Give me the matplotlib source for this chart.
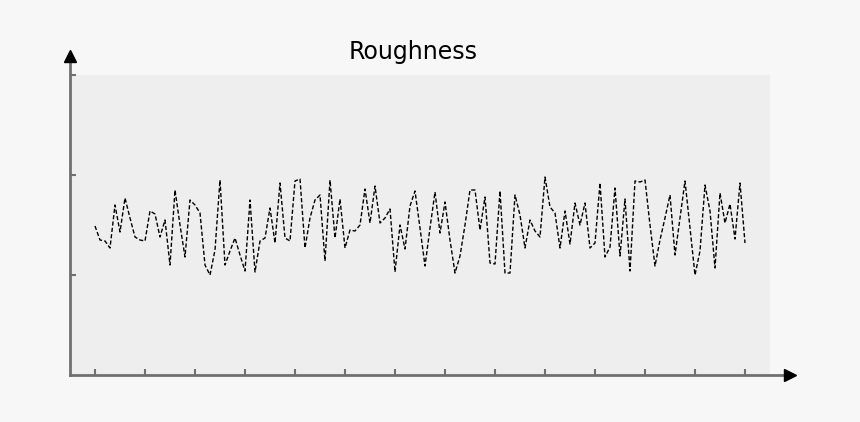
import matplotlib
matplotlib.use("Agg")
import matplotlib.pyplot as plt
import numpy as np

# --- datos ---
roughness = [
    1.49, 1.35, 1.34, 1.27, 1.70, 1.43, 1.77, 1.57, 1.38, 1.35,
    1.34, 1.64, 1.61, 1.38, 1.55, 1.10, 1.85, 1.50, 1.18, 1.75,
    1.70, 1.62, 1.10, 1.00, 1.25, 1.95, 1.10, 1.24, 1.37, 1.20,
    1.04, 1.75, 1.03, 1.34, 1.37, 1.67, 1.32, 1.92, 1.37, 1.34,
    1.94, 1.96, 1.27, 1.57, 1.75, 1.80, 1.14, 1.95, 1.37, 1.76,
    1.27, 1.45, 1.44, 1.50, 1.86, 1.52, 1.89, 1.52, 1.57, 1.66,
    1.03, 1.50, 1.26, 1.69, 1.84, 1.47, 1.09, 1.47, 1.83, 1.42,
    1.73, 1.35, 1.02, 1.19, 1.50, 1.85, 1.85, 1.45, 1.78, 1.12,
    1.11, 1.84, 1.02, 1.02, 1.80, 1.60, 1.27, 1.55, 1.44, 1.38,
    1.98, 1.68, 1.62, 1.27, 1.64, 1.31, 1.72, 1.50, 1.72, 1.27,
    1.32, 1.92, 1.18, 1.28, 1.87, 1.19, 1.76, 1.04, 1.94, 1.93,
    1.95, 1.50, 1.09, 1.35, 1.57, 1.80, 1.20, 1.57, 1.94, 1.47,
    1.00, 1.24, 1.90, 1.64, 1.07, 1.82, 1.52, 1.71, 1.36, 1.92,
    1.32,
]
x = np.arange(len(roughness))
x_ticks = np.arange(0, len(roughness), 10)
y_ticks = [1, 2, 3]

axis_color = "#707070"

fig = plt.figure(figsize=(8.6, 4.22), dpi=100, facecolor="#f7f7f7")
ax = fig.add_axes([70 / 860, 47 / 422, 700 / 860, 300 / 422])
ax.set_facecolor("#eeeeee")

ax.plot(x, roughness, color="black", lw=1, dashes=(3, 1.6))

ax.set_xlim(-5, 135)
ax.set_ylim(0, 3)
ax.set_xticks(x_ticks)
ax.set_yticks(y_ticks)
ax.set_xticklabels([])
ax.set_yticklabels([])
ax.tick_params(direction="in", length=4, width=1.5, color=axis_color)
for s in ax.spines.values():
    s.set_visible(False)

# ejes con flechas
ax.plot([0, 0], [0, 1.06], color=axis_color, lw=2, transform=ax.transAxes, clip_on=False)
ax.plot([0, 1.025], [0, 0], color=axis_color, lw=2, transform=ax.transAxes, clip_on=False)
ax.plot([0], [1.063], marker="^", color="black", ms=8, transform=ax.transAxes, clip_on=False)
ax.plot([1.028], [0], marker=">", color="black", ms=8, transform=ax.transAxes, clip_on=False)

fig.text(413 / 860, 1 - 52 / 422, "Roughness", ha="center", va="center", fontsize=17)

fig.savefig("out.png", dpi=100, facecolor=fig.get_facecolor())
